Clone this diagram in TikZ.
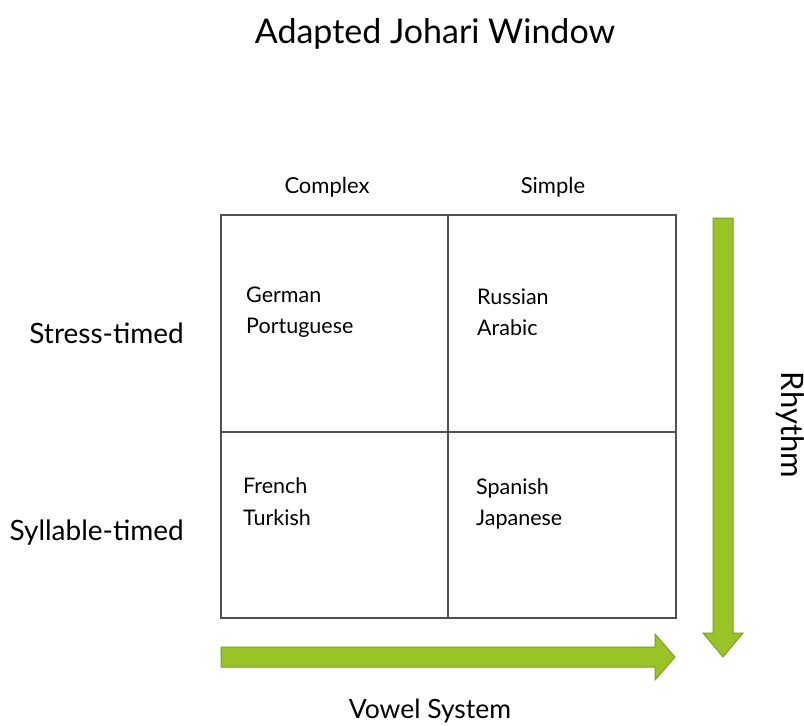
\documentclass[tikz,border=0pt]{standalone}
\usepackage{fontspec}
\setmainfont{Lato}
\usetikzlibrary{positioning}
\definecolor{arrowgreen}{RGB}{153,196,40}
\definecolor{arrowedge}{RGB}{120,160,38}
\definecolor{gridgray}{RGB}{80,80,80}

\begin{document}
\begin{tikzpicture}[x = 1pt, y = -1pt,
  lang/.style = {anchor = base west, inner sep = 0pt, font = \fontsize{21.5}{26}\selectfont},
  colhead/.style = {anchor = base, inner sep = 0pt, font = \fontsize{22}{26}\selectfont},
  rowhead/.style = {anchor = base east, inner sep = 0pt, font = \fontsize{28}{34}\selectfont},
  axis/.style = {anchor = base, inner sep = 0pt, font = \fontsize{27}{32}\selectfont},
  grid/.style = {draw = gridgray, line width = 1.2pt},
  bigarrow/.style = {fill = arrowgreen, draw = arrowedge, line width = 1pt}]
\useasboundingbox (0, 0) rectangle (804, 726);

\node[anchor = base, inner sep = 0pt, font = \fontsize{34}{40}\selectfont] (title) at (435, 43) {Adapted Johari Window};

\coordinate (NW) at (221, 215);
\coordinate (SE) at (676, 618);
\coordinate (N) at (448, 215);
\coordinate (S) at (448, 618);
\coordinate (W) at (221, 432);
\coordinate (E) at (676, 432);
\draw[grid] (NW) rectangle (SE);
\draw[grid] (N) -- (S);
\draw[grid] (W) -- (E);

\node[colhead] (complex) at (327, 193) {Complex};
\node[colhead] (simple) at (553, 193) {Simple};

\node[rowhead] (stress) at (184, 343) {Stress-timed};
\node[rowhead] (syllable) at (184, 540) {Syllable-timed};

\node[lang] (german) at (246, 302) {German};
\node[lang] (portuguese) at (246, 333) {Portuguese};
\node[lang] (russian) at (477, 304) {Russian};
\node[lang] (arabic) at (477, 335) {Arabic};
\node[lang] (french) at (243, 493) {French};
\node[lang] (turkish) at (243, 525) {Turkish};
\node[lang] (spanish) at (476, 494) {Spanish};
\node[lang] (japanese) at (476, 525) {Japanese};

\draw[bigarrow] (713, 218) -- (733, 218) -- (733, 633) -- (743, 633) -- (723, 657) -- (703, 633) -- (713, 633) -- cycle;
\draw[bigarrow] (221, 647) -- (655, 647) -- (655, 634) -- (675, 657) -- (655, 680) -- (655, 667) -- (221, 667) -- cycle;

\node[axis, font = \fontsize{26.5}{32}\selectfont] (vowel) at (430, 718) {Vowel System};
\node[axis, font = \fontsize{31}{36}\selectfont, rotate = -90] (rhythm) at (781, 425) {Rhythm};

\end{tikzpicture}
\end{document}
